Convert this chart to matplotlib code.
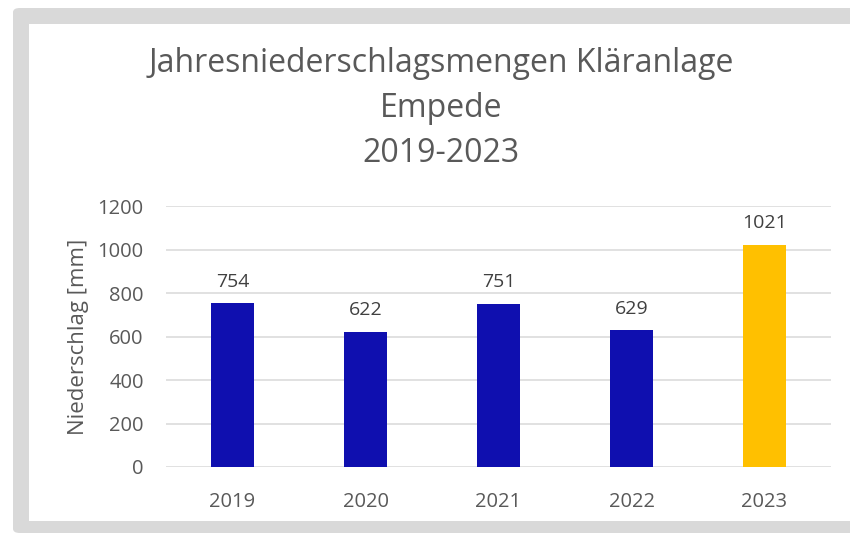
import matplotlib
matplotlib.use('Agg')
import matplotlib.pyplot as plt
from matplotlib.patches import FancyBboxPatch, Rectangle

# data
years = ['2019', '2020', '2021', '2022', '2023']
rain_mm = [754, 622, 751, 629, 1021]
bar_colors = ['#0F0FAF', '#0F0FAF', '#0F0FAF', '#0F0FAF', '#FFC000']
y_ticks = [0, 200, 400, 600, 800, 1000, 1200]

title_lines = ['Jahresniederschlagsmengen Kläranlage', 'Empede', '2019-2023']
y_label = 'Niederschlag [mm]'

text_col = '#595959'
grid_col = '#D9D9D9'
plt.rcParams['font.family'] = ['Open Sans', 'DejaVu Sans']

W, H = 850, 534
fig = plt.figure(figsize=(W / 100, H / 100), dpi=100)
fig.patch.set_facecolor('white')

# gray frame (left, top, bottom bands with rounded corners)
def fx(px):
    return px / W

def fy(py):
    return 1 - py / H

frame = FancyBboxPatch((fx(13), fy(533)), fx(900) - fx(13), fy(8) - fy(533),
                       boxstyle='round,pad=0,rounding_size=0.008',
                       transform=fig.transFigure, facecolor=grid_col,
                       edgecolor='none', zorder=0)
fig.add_artist(frame)
inner = Rectangle((fx(29), fy(521)), fx(900) - fx(29), fy(24) - fy(521),
                  transform=fig.transFigure, facecolor='white',
                  edgecolor='none', zorder=0.5)
fig.add_artist(inner)

ax = fig.add_axes([fx(166), fy(467), fx(831) - fx(166), fy(206) - fy(467)])
ax.set_facecolor('none')
ax.set_zorder(2)

x = list(range(len(years)))
bars = ax.bar(x, rain_mm, width=0.32, color=bar_colors, zorder=3)
for xi, v in zip(x, rain_mm):
    ax.annotate(str(v), (xi, v), xytext=(0, 9), textcoords='offset points',
                ha='center', va='bottom', fontsize=14, color='#404040')

ax.set_xlim(-0.5, len(years) - 0.5)
ax.set_ylim(0, 1200)
ax.set_yticks(y_ticks)
ax.set_xticks(x)
ax.set_xticklabels(years)
ax.tick_params(axis='both', length=0, labelsize=14.5, labelcolor=text_col)
ax.tick_params(axis='y', pad=16)
ax.tick_params(axis='x', pad=18)
ax.grid(axis='y', color=grid_col, linewidth=1.1, zorder=0)
for s in ax.spines.values():
    s.set_visible(False)
ax.set_ylabel(y_label, fontsize=16, color=text_col, labelpad=6)

title_y = [72, 117, 162]
for t, yy in zip(title_lines, title_y):
    fig.text(fx(441), fy(yy), t, ha='center', va='baseline',
             fontsize=23, color=text_col, zorder=3)

fig.savefig('out.png', dpi=100)
